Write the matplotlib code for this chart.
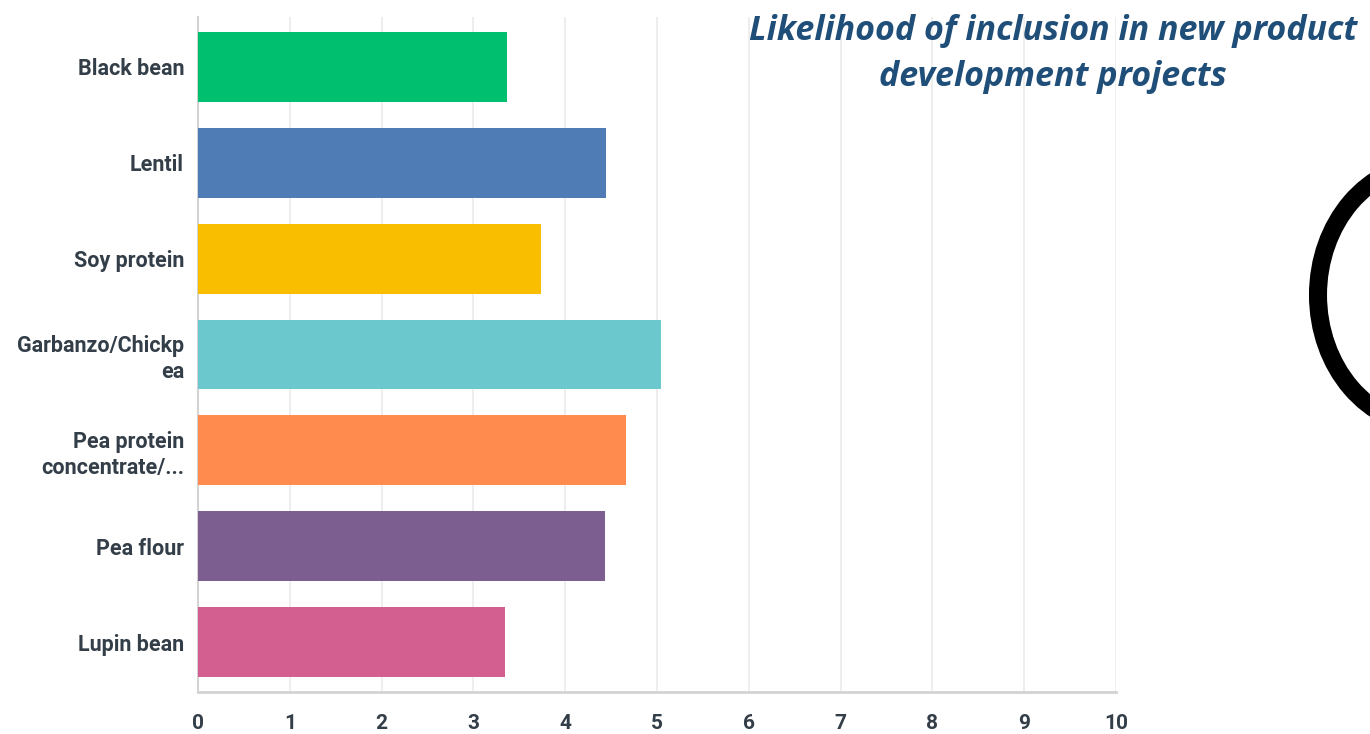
import matplotlib
matplotlib.use("Agg")
import matplotlib.pyplot as plt
from matplotlib.patches import Ellipse

# Data
categories = ["Black bean", "Lentil", "Soy protein", "Garbanzo/Chickp\nea",
              "Pea protein\nconcentrate/...", "Pea flour", "Lupin bean"]
values = [3.37, 4.44, 3.74, 5.04, 4.66, 4.43, 3.34]
colors = ["#00BF6F", "#507CB6", "#F9BE00", "#6BC8CD", "#FF8B4F", "#7D5E90", "#D25F90"]
xticks = list(range(0, 11))
title = "Likelihood of inclusion in new product\ndevelopment projects"

fig = plt.figure(figsize=(13.7, 7.34), dpi=100)
ax = fig.add_axes([198 / 1370, 1 - 692 / 734, (1116 - 198) / 1370, (692 - 17) / 734])

y = list(range(len(categories)))
ax.barh(y, values, height=0.73, color=colors, zorder=3)

ax.set_xlim(0, 10)
ax.set_ylim(len(categories) - 0.48, -0.52)
ax.set_xticks(xticks)
ax.set_yticks(y)
ax.set_yticklabels(categories)
ax.grid(axis="x", color="#ebebeb", linewidth=1.2, zorder=0)
ax.grid(axis="y", visible=False)

for side in ["top", "right"]:
    ax.spines[side].set_visible(False)
ax.spines["bottom"].set_color("#d3d3d3")
ax.spines["bottom"].set_linewidth(2)
ax.spines["left"].set_color("#d3d3d3")
ax.spines["left"].set_linewidth(1.5)

ax.tick_params(axis="both", length=0, labelcolor="#333e48")
ax.tick_params(axis="x", pad=16)
ax.tick_params(axis="y", pad=10)
for lbl in ax.get_yticklabels():
    lbl.set_fontfamily("Roboto")
    lbl.set_fontweight("bold")
    lbl.set_fontsize(15.5)
    lbl.set_linespacing(1.25)
for lbl in ax.get_xticklabels():
    lbl.set_fontfamily("Roboto")
    lbl.set_fontweight("bold")
    lbl.set_fontsize(15)

fig.text(1053 / 1370, 1 - 54 / 734, title, ha="center", va="center",
         fontsize=24.5, fontweight="bold", fontstyle="italic", family="Open Sans",
         color="#1F4E79", linespacing=1.5)

# hand-drawn circle partly off the right edge
ring = Ellipse((1430 / 1370, 1 - 295 / 734), 224 / 1370, 262 / 734,
               transform=fig.transFigure, fill=False, edgecolor="black", linewidth=13)
fig.add_artist(ring)

fig.savefig("out.png", dpi=100)
